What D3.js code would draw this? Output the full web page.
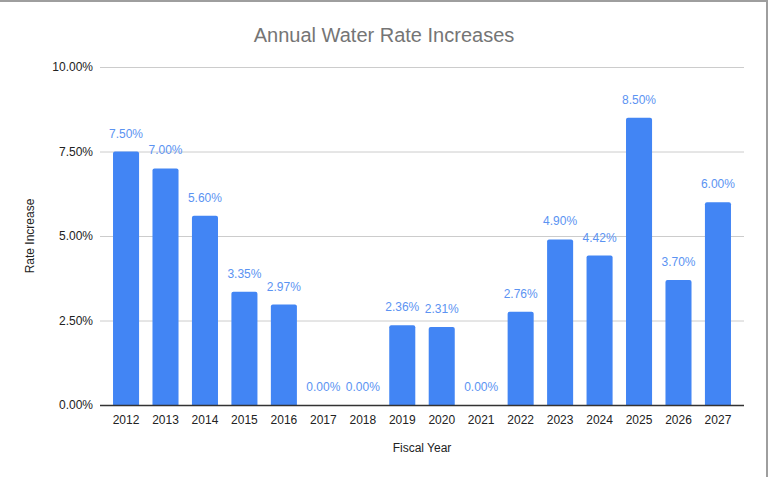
<!DOCTYPE html>
<html><head><meta charset="utf-8">
<script src="https://cdn.jsdelivr.net/npm/d3@7/dist/d3.min.js"></script>
<style>body{margin:0;background:#fff;}svg{display:block;font-family:"Liberation Sans",Arial,sans-serif;}</style>
</head><body>
<script>
const years = ["2012","2013","2014","2015","2016","2017","2018","2019","2020","2021","2022","2023","2024","2025","2026","2027"];
const rates = [7.50,7.00,5.60,3.35,2.97,0.00,0.00,2.36,2.31,0.00,2.76,4.90,4.42,8.50,3.70,6.00];
const yTicks = [0,2.5,5,7.5,10];

(function(){
const W=769,H=477;
const svg=d3.select("body").append("svg").attr("width",W).attr("height",H);
svg.append("rect").attr("x",0).attr("y",0).attr("width",W).attr("height",H).attr("fill","#fff");
// frame
svg.append("line").attr("x1",0).attr("x2",768).attr("y1",1).attr("y2",1).attr("stroke","#9e9e9e").attr("stroke-width",2);
svg.append("line").attr("x1",767).attr("x2",767).attr("y1",0).attr("y2",H).attr("stroke","#9e9e9e").attr("stroke-width",2);

const pL=100,pR=744,pT=67,pB=405;
const x=d3.scaleBand().domain(years).range([pL,pR]).paddingInner(0.34).paddingOuter(0.33);
const y=d3.scaleLinear().domain([0,10]).range([pB,pT]);

// gridlines
svg.append("g").selectAll("line").data(yTicks).join("line")
 .attr("x1",pL).attr("x2",pR).attr("y1",d=>y(d)+0.5).attr("y2",d=>y(d)+0.5)
 .attr("stroke","#cccccc").attr("stroke-width",1);

// y axis labels
const yAxis=d3.axisLeft(y).tickValues(yTicks).tickSize(0).tickPadding(7).tickFormat(d=>d.toFixed(2)+"%");
const gy=svg.append("g").attr("transform",`translate(${pL},0)`).call(yAxis);
gy.select(".domain").remove();
gy.selectAll("text").attr("font-size",12).attr("fill","#222").attr("font-family","Liberation Sans, Arial, sans-serif");

// bars
const r=2;
svg.append("g").selectAll("path").data(years).join("path")
 .attr("d",(d,i)=>{
   const x0=x(d),w=x.bandwidth(),yt=y(rates[i]),yb=y(0);
   if(yb-yt<r) return "";
   return `M${x0},${yb}V${yt+r}Q${x0},${yt} ${x0+r},${yt}H${x0+w-r}Q${x0+w},${yt} ${x0+w},${yt+r}V${yb}Z`;
 }).attr("fill","#4285f4");

// x axis
const xAxis=d3.axisBottom(x).tickSize(0).tickPadding(10);
const gx=svg.append("g").attr("transform",`translate(0,${pB})`).call(xAxis);
gx.select(".domain").attr("stroke","#333").attr("stroke-width",1.3).attr("d",`M${pL},0.5H${pR}`);
gx.selectAll("text").attr("font-size",12).attr("fill","#222").attr("font-family","Liberation Sans, Arial, sans-serif");

// data labels
svg.append("g").selectAll("text").data(years).join("text")
 .attr("x",d=>x(d)+x.bandwidth()/2).attr("y",(d,i)=>y(rates[i])-14)
 .attr("text-anchor","middle").attr("font-size",12).attr("fill","#5b93f2")
 .text((d,i)=>rates[i].toFixed(2)+"%");

// title
svg.append("text").attr("x",384).attr("y",42).attr("text-anchor","middle")
 .attr("font-size",20).attr("fill","#757575").text("Annual Water Rate Increases");
// axis titles
svg.append("text").attr("x",(pL+pR)/2).attr("y",452).attr("text-anchor","middle")
 .attr("font-size",12).attr("fill","#222").text("Fiscal Year");
svg.append("text").attr("transform",`translate(34,${(pT+pB)/2}) rotate(-90)`).attr("text-anchor","middle")
 .attr("font-size",12).attr("fill","#222").text("Rate Increase");
})();
</script>
</body></html>
